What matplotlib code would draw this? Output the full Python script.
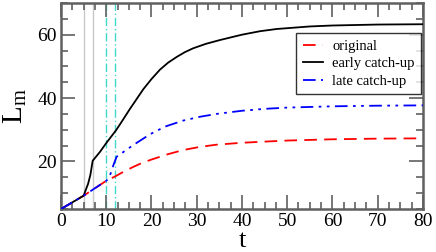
import matplotlib
matplotlib.use('Agg')
import matplotlib.pyplot as plt
from matplotlib.ticker import MultipleLocator

plt.rcParams['font.family'] = ['Liberation Serif', 'DejaVu Serif']
plt.rcParams['mathtext.fontset'] = 'custom'
plt.rcParams['mathtext.rm'] = 'Liberation Serif'
plt.rcParams['mathtext.it'] = 'Liberation Serif:italic'

# data
t_orig = [0, 5, 10, 12, 14, 16, 18, 20, 23.4, 27, 30.7, 34.4, 40, 45.5, 50, 60, 70, 80]
orig = [5.0, 9.2, 13.9, 15.3, 16.9, 18.3, 19.6, 20.6, 22.2, 23.6, 24.6, 25.3, 25.9, 26.3, 26.6, 27.0, 27.2, 27.3]

t_early = [0, 5, 6, 6.5, 7, 8.6, 10, 12.2, 13.4, 15.2, 18.2, 20, 21.9, 23.7, 25.6, 27.4, 29.2, 32, 35.1, 40, 44, 47.7, 55, 60, 70, 80]
early = [5.0, 9.2, 13.0, 15.8, 20.2, 23.0, 25.8, 29.9, 32.5, 36.5, 42.8, 46.0, 49.0, 51.2, 53.0, 54.5, 55.7, 57.1, 58.3, 60.0, 61.1, 61.8, 62.6, 62.9, 63.2, 63.3]

t_late = [0, 5, 10, 10.5, 11, 11.6, 12.3, 13.8, 16, 19.7, 23, 27, 30.7, 34.4, 40, 45, 50, 60, 70, 80]
late = [5.0, 9.2, 13.9, 14.7, 16.3, 18.9, 21.5, 23.0, 25.2, 28.6, 31.0, 32.9, 34.1, 35.0, 36.0, 36.6, 37.0, 37.4, 37.6, 37.7]

gray_lines = [5, 7]
cyan_lines = [10, 12]

fig = plt.figure(figsize=(4.36, 2.52), dpi=100)
ax = fig.add_axes([0.1399, 0.1706, 0.830, 0.8175])

for x in gray_lines:
    ax.axvline(x, color='#c8c8c8', lw=1.0, zorder=1)
for x in cyan_lines:
    ax.axvline(x, color='#40d8c8', lw=1.0, ls=(0, (6, 2, 1, 2)), zorder=1)

ax.plot(t_orig, orig, color='#ff0000', lw=1.3, ls=(0, (7, 4)), label='original', zorder=2)
ax.plot(t_early, early, color='black', lw=1.3, label='early catch-up', zorder=3)
ax.plot(t_late, late, color='#0000ff', lw=1.3, ls=(0, (7, 3, 1.5, 3, 1.5, 3)), label='late catch-up', zorder=4)

ax.set_xlim(0, 80)
ax.set_ylim(5, 70)
ax.xaxis.set_major_locator(MultipleLocator(10))
ax.xaxis.set_minor_locator(MultipleLocator(2.5))
ax.yaxis.set_major_locator(MultipleLocator(20))
ax.yaxis.set_minor_locator(MultipleLocator(5))
ax.tick_params(which='both', direction='in', top=True, right=True, color='#606060', labelsize=14, width=1.2)
ax.tick_params(which='major', length=10, pad=3)
ax.tick_params(which='minor', length=5)
for s in ax.spines.values():
    s.set_color('#606060')
    s.set_linewidth(1.8)

ax.set_xlabel('t', fontsize=19, labelpad=0)
ax.set_ylabel(r'L$_{\mathrm{m}}$', fontsize=21, labelpad=6)

leg = ax.legend(loc='upper right', bbox_to_anchor=(0.995, 0.855), fontsize=10.5, frameon=True, fancybox=False,
                handlelength=1.4, borderpad=0.45, labelspacing=0.3, handletextpad=0.6, borderaxespad=0)
leg.get_frame().set_edgecolor('black')
leg.get_frame().set_linewidth(1.0)

fig.savefig('out.png', dpi=100)
